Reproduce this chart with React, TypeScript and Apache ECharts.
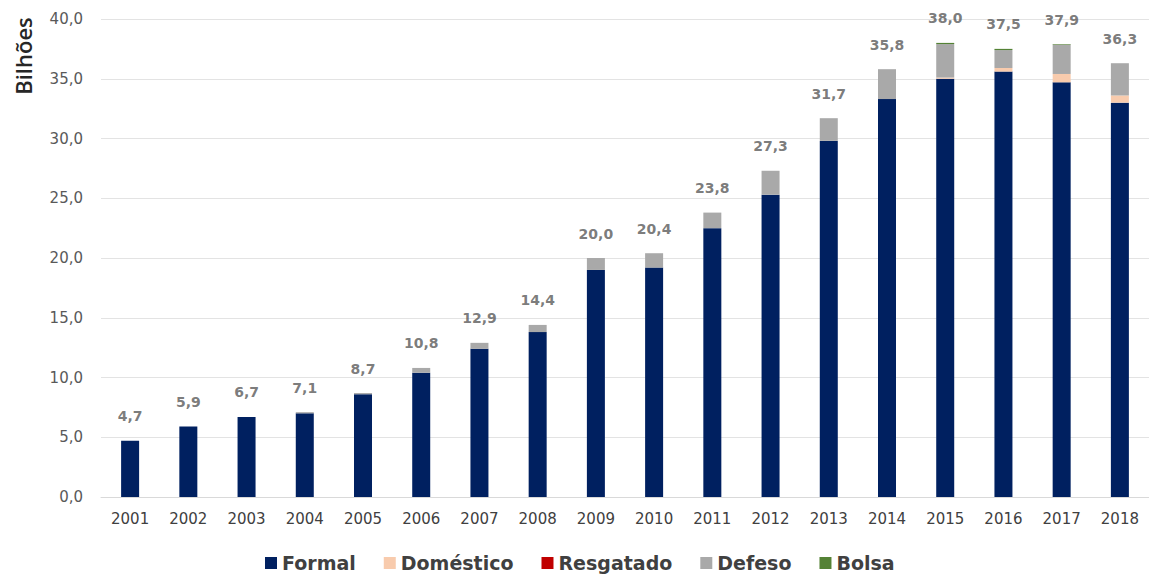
import React, { useEffect, useRef } from "react";
import * as echarts from "echarts";

const years = ["2001","2002","2003","2004","2005","2006","2007","2008","2009","2010","2011","2012","2013","2014","2015","2016","2017","2018"];
const formal = [4.7, 5.9, 6.7, 7.0, 8.6, 10.4, 12.4, 13.8, 19.0, 19.2, 22.5, 25.3, 29.8, 33.3, 35.0, 35.6, 34.7, 33.0];
const domestico = [0, 0, 0, 0, 0, 0, 0, 0, 0, 0, 0, 0, 0, 0, 0.1, 0.3, 0.7, 0.6];
const resgatado = [0, 0, 0, 0, 0, 0, 0, 0, 0, 0, 0, 0, 0, 0, 0, 0, 0, 0];
const defeso = [0, 0, 0, 0.1, 0.1, 0.4, 0.5, 0.6, 1.0, 1.2, 1.3, 2.0, 1.9, 2.5, 2.8, 1.5, 2.45, 2.7];
const bolsa = [0, 0, 0, 0, 0, 0, 0, 0, 0, 0, 0, 0, 0, 0, 0.1, 0.1, 0.05, 0];
const totals = [4.7, 5.9, 6.7, 7.1, 8.7, 10.8, 12.9, 14.4, 20.0, 20.4, 23.8, 27.3, 31.7, 35.8, 38.0, 37.5, 37.9, 36.3];
const yTicks = { min: 0, max: 40, interval: 5 };

const WIDE = "'DejaVu Sans', sans-serif";
const OPEN = "'Open Sans', 'Noto Sans', sans-serif";
const fmt = (v: number) => v.toFixed(1).replace(".", ",");

export default function App() {
  const ref = useRef<HTMLDivElement>(null);
  useEffect(() => {
    document.body.style.margin = "0";
    const chart = echarts.init(ref.current!, null, { renderer: "svg" });
    const barBase = { type: "bar", stack: "t", barWidth: 18 };
    chart.setOption({
      animation: false,
      backgroundColor: "#ffffff",
      grid: { left: 101, right: 0, top: 19, bottom: 77 },
      legend: {
        data: ["Formal", "Doméstico", "Resgatado", "Defeso", "Bolsa"],
        top: 553,
        left: 265,
        padding: 0,
        icon: "rect",
        itemWidth: 12,
        itemHeight: 12,
        itemGap: 28,
        textStyle: { fontFamily: WIDE, fontSize: 19, lineHeight: 20, fontWeight: "bold", color: "#404040" },
      },
      xAxis: {
        type: "category",
        data: years,
        axisTick: { show: false },
        axisLine: { lineStyle: { color: "#d9d9d9" } },
        axisLabel: { fontFamily: WIDE, fontSize: 15, color: "#404040", margin: 14 },
      },
      yAxis: {
        type: "value",
        min: yTicks.min,
        max: yTicks.max,
        interval: yTicks.interval,
        axisLine: { show: false },
        axisTick: { show: false },
        splitLine: { lineStyle: { color: "#e3e3e3" } },
        axisLabel: { fontFamily: WIDE, fontSize: 15, color: "#595959", margin: 18, formatter: (v: number) => fmt(v) },
      },
      graphic: [
        {
          type: "text",
          x: 23,
          y: 56,
          rotation: Math.PI / 2,
          style: { text: "Bilhões", fontFamily: OPEN, fontSize: 22, fontWeight: 600, fill: "#262626", align: "center", verticalAlign: "middle" },
        },
      ],
      series: [
        { ...barBase, name: "Formal", data: formal, itemStyle: { color: "#002060" } },
        { ...barBase, name: "Doméstico", data: domestico, itemStyle: { color: "#f8cbad" } },
        { ...barBase, name: "Resgatado", data: resgatado, itemStyle: { color: "#c00000" } },
        { ...barBase, name: "Defeso", data: defeso, itemStyle: { color: "#a9a9a9" } },
        { ...barBase, name: "Bolsa", data: bolsa, itemStyle: { color: "#548235" } },
        {
          type: "scatter",
          name: "Total",
          data: totals,
          symbolSize: 1,
          itemStyle: { color: "rgba(0,0,0,0)" },
          label: {
            show: true,
            position: "top",
            distance: 17,
            fontFamily: WIDE,
            fontSize: 14,
            fontWeight: "bold",
            color: "#595959",
            formatter: (p: any) => fmt(p.value),
          },
        },
      ],
    });
    return () => chart.dispose();
  }, []);
  return <div ref={ref} style={{ width: 1149, height: 574 }} />;
}
